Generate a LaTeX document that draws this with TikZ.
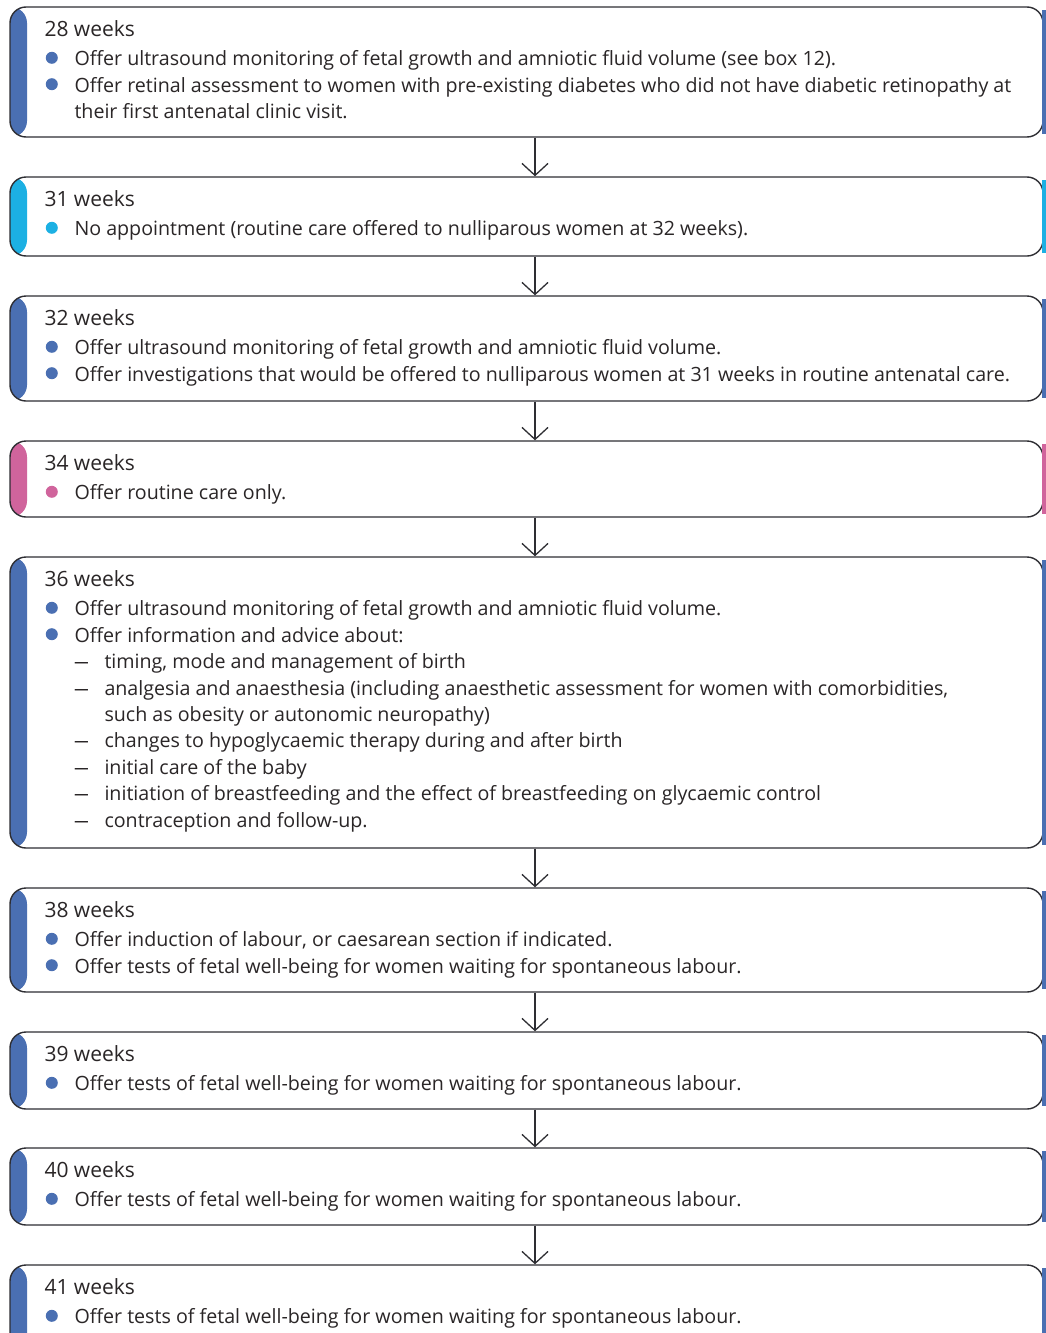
\documentclass[tikz,border=0pt]{standalone}
\usepackage{fontspec}
\setmainfont{Open Sans}
\usetikzlibrary{arrows.meta,calc}
\definecolor{ink}{HTML}{2A2627}
\definecolor{edge}{HTML}{2E2E33}
\definecolor{navy}{HTML}{4A6FB2}
\definecolor{sky}{HTML}{1CB0E3}
\definecolor{rose}{HTML}{D0649C}
\begin{document}
\begin{tikzpicture}[x=1pt,y=-1pt,
  stage/.style={draw=edge, line width=1.4pt, rounded corners=16pt,
    minimum width=1033pt, inner sep=0pt, fill=white,
    path picture={\fill[#1] (path picture bounding box.north west)
      rectangle ([xshift=17pt]path picture bounding box.south west);}},
  txt/.style={anchor=base west, inner sep=0pt, text=ink, font=\fontsize{19.65}{23}\selectfont},
  head/.style={txt, font=\fontsize{21}{25}\selectfont},
  link/.style={draw=edge, line width=1.3pt, -{Straight Barb[length=12pt,width=26pt,line width=1.3pt]}},
]
\useasboundingbox (0,0) rectangle (1046,1333);
\clip (0,0) rectangle (1046,1333);

% ---- boxes: (x centre, y centre), height ----
\node[stage=navy, minimum height=130pt] (b1) at (526.5,72) {};
\node[stage=sky,  minimum height=79pt]  (b2) at (526.5,216.5) {};
\node[stage=navy, minimum height=105pt] (b3) at (526.5,348.5) {};
\node[stage=rose, minimum height=76pt]  (b4) at (526.5,479) {};
\node[stage=navy, minimum height=291pt] (b5) at (526.5,702.5) {};
\node[stage=navy, minimum height=104pt] (b6) at (526.5,940) {};
\node[stage=navy, minimum height=77pt]  (b7) at (526.5,1070.5) {};
\node[stage=navy, minimum height=77pt]  (b8) at (526.5,1186.5) {};
\node[stage=navy, minimum height=95pt]  (b9) at (526.5,1312.5) {};

% right-hand colour strips
\fill[navy] (1042,10) rectangle (1046,134);
\fill[sky]  (1042,180) rectangle (1046,253);
\fill[navy] (1042,299) rectangle (1046,398);
\fill[rose] (1042,444) rectangle (1046,514);
\fill[navy] (1042,560) rectangle (1046,845);
\fill[navy] (1042,891) rectangle (1046,989);
\fill[navy] (1042,1035) rectangle (1046,1106);
\fill[navy] (1042,1151) rectangle (1046,1222);
\fill[navy] (1042,1268) rectangle (1046,1333);

% ---- connectors ----
\foreach \a/\b in {b1/b2,b2/b3,b3/b4,b4/b5,b5/b6,b6/b7,b7/b8,b8/b9}
  \draw[link] ([xshift=8.5pt]\a.south) -- ([xshift=8.5pt]\b.north);

% ---- box 1 ----
\node[head] (t1) at ($(b1.north west)+(35,30)$) {28 weeks};
\fill[navy] ($(b1.north west)+(42.5,51.5)$) circle (6pt);
\node[txt] (t1a) at ($(b1.north west)+(65,59.5)$) {Offer ultrasound monitoring of fetal growth and amniotic fluid volume (see box 12).};
\fill[navy] ($(b1.north west)+(42.5,77.9)$) circle (6pt);
\node[txt] (t1b) at ($(b1.north west)+(65,85.9)$) {Offer retinal assessment to women with pre-existing diabetes who did not have diabetic retinopathy at};
\node[txt] (t1c) at ($(b1.north west)+(65,112.3)$) {their first antenatal clinic visit.};

% ---- box 2 ----
\node[head] (t2) at ($(b2.north west)+(35,30)$) {31 weeks};
\fill[sky] ($(b2.north west)+(42.5,51.5)$) circle (6pt);
\node[txt] (t2a) at ($(b2.north west)+(65,59.5)$) {No appointment (routine care offered to nulliparous women at 32 weeks).};

% ---- box 3 ----
\node[head] (t3) at ($(b3.north west)+(35,30)$) {32 weeks};
\fill[navy] ($(b3.north west)+(42.5,51.5)$) circle (6pt);
\node[txt] (t3a) at ($(b3.north west)+(65,59.5)$) {Offer ultrasound monitoring of fetal growth and amniotic fluid volume.};
\fill[navy] ($(b3.north west)+(42.5,77.9)$) circle (6pt);
\node[txt] (t3b) at ($(b3.north west)+(65,85.9)$) {Offer investigations that would be offered to nulliparous women at 31 weeks in routine antenatal care.};

% ---- box 4 ----
\node[head] (t4) at ($(b4.north west)+(35,30)$) {34 weeks};
\fill[rose] ($(b4.north west)+(42.5,51.5)$) circle (6pt);
\node[txt] (t4a) at ($(b4.north west)+(65,59.5)$) {Offer routine care only.};

% ---- box 5 ----
\node[head] (t5) at ($(b5.north west)+(35,30)$) {36 weeks};
\fill[navy] ($(b5.north west)+(42.5,51.5)$) circle (6pt);
\node[txt] (t5a) at ($(b5.north west)+(65,59.5)$) {Offer ultrasound monitoring of fetal growth and amniotic fluid volume.};
\fill[navy] ($(b5.north west)+(42.5,77.9)$) circle (6pt);
\node[txt] (t5b) at ($(b5.north west)+(65,85.9)$) {Offer information and advice about:};
\node[txt] (d5c) at ($(b5.north west)+(64,112.3)$) {\scalebox{1.6}[1]{–}};
\node[txt] (t5c) at ($(b5.north west)+(95,112.3)$) {timing, mode and management of birth};
\node[txt] (d5d) at ($(b5.north west)+(64,138.7)$) {\scalebox{1.6}[1]{–}};
\node[txt] (t5d) at ($(b5.north west)+(95,138.7)$) {analgesia and anaesthesia (including anaesthetic assessment for women with comorbidities,};
\node[txt] (t5e) at ($(b5.north west)+(95,165.1)$) {such as obesity or autonomic neuropathy)};
\node[txt] (d5f) at ($(b5.north west)+(64,191.5)$) {\scalebox{1.6}[1]{–}};
\node[txt] (t5f) at ($(b5.north west)+(95,191.5)$) {changes to hypoglycaemic therapy during and after birth};
\node[txt] (d5g) at ($(b5.north west)+(64,217.9)$) {\scalebox{1.6}[1]{–}};
\node[txt] (t5g) at ($(b5.north west)+(95,217.9)$) {initial care of the baby};
\node[txt] (d5h) at ($(b5.north west)+(64,244.3)$) {\scalebox{1.6}[1]{–}};
\node[txt] (t5h) at ($(b5.north west)+(95,244.3)$) {initiation of breastfeeding and the effect of breastfeeding on glycaemic control};
\node[txt] (d5i) at ($(b5.north west)+(64,270.7)$) {\scalebox{1.6}[1]{–}};
\node[txt] (t5i) at ($(b5.north west)+(95,270.7)$) {contraception and follow-up.};

% ---- box 6 ----
\node[head] (t6) at ($(b6.north west)+(35,30)$) {38 weeks};
\fill[navy] ($(b6.north west)+(42.5,51.5)$) circle (6pt);
\node[txt] (t6a) at ($(b6.north west)+(65,59.5)$) {Offer induction of labour, or caesarean section if indicated.};
\fill[navy] ($(b6.north west)+(42.5,77.9)$) circle (6pt);
\node[txt] (t6b) at ($(b6.north west)+(65,85.9)$) {Offer tests of fetal well-being for women waiting for spontaneous labour.};

% ---- box 7 ----
\node[head] (t7) at ($(b7.north west)+(35,30)$) {39 weeks};
\fill[navy] ($(b7.north west)+(42.5,51.5)$) circle (6pt);
\node[txt] (t7a) at ($(b7.north west)+(65,59.5)$) {Offer tests of fetal well-being for women waiting for spontaneous labour.};

% ---- box 8 ----
\node[head] (t8) at ($(b8.north west)+(35,30)$) {40 weeks};
\fill[navy] ($(b8.north west)+(42.5,51.5)$) circle (6pt);
\node[txt] (t8a) at ($(b8.north west)+(65,59.5)$) {Offer tests of fetal well-being for women waiting for spontaneous labour.};

% ---- box 9 ----
\node[head] (t9) at ($(b9.north west)+(35,30)$) {41 weeks};
\fill[navy] ($(b9.north west)+(42.5,51.5)$) circle (6pt);
\node[txt] (t9a) at ($(b9.north west)+(65,59.5)$) {Offer tests of fetal well-being for women waiting for spontaneous labour.};
\end{tikzpicture}
\end{document}
